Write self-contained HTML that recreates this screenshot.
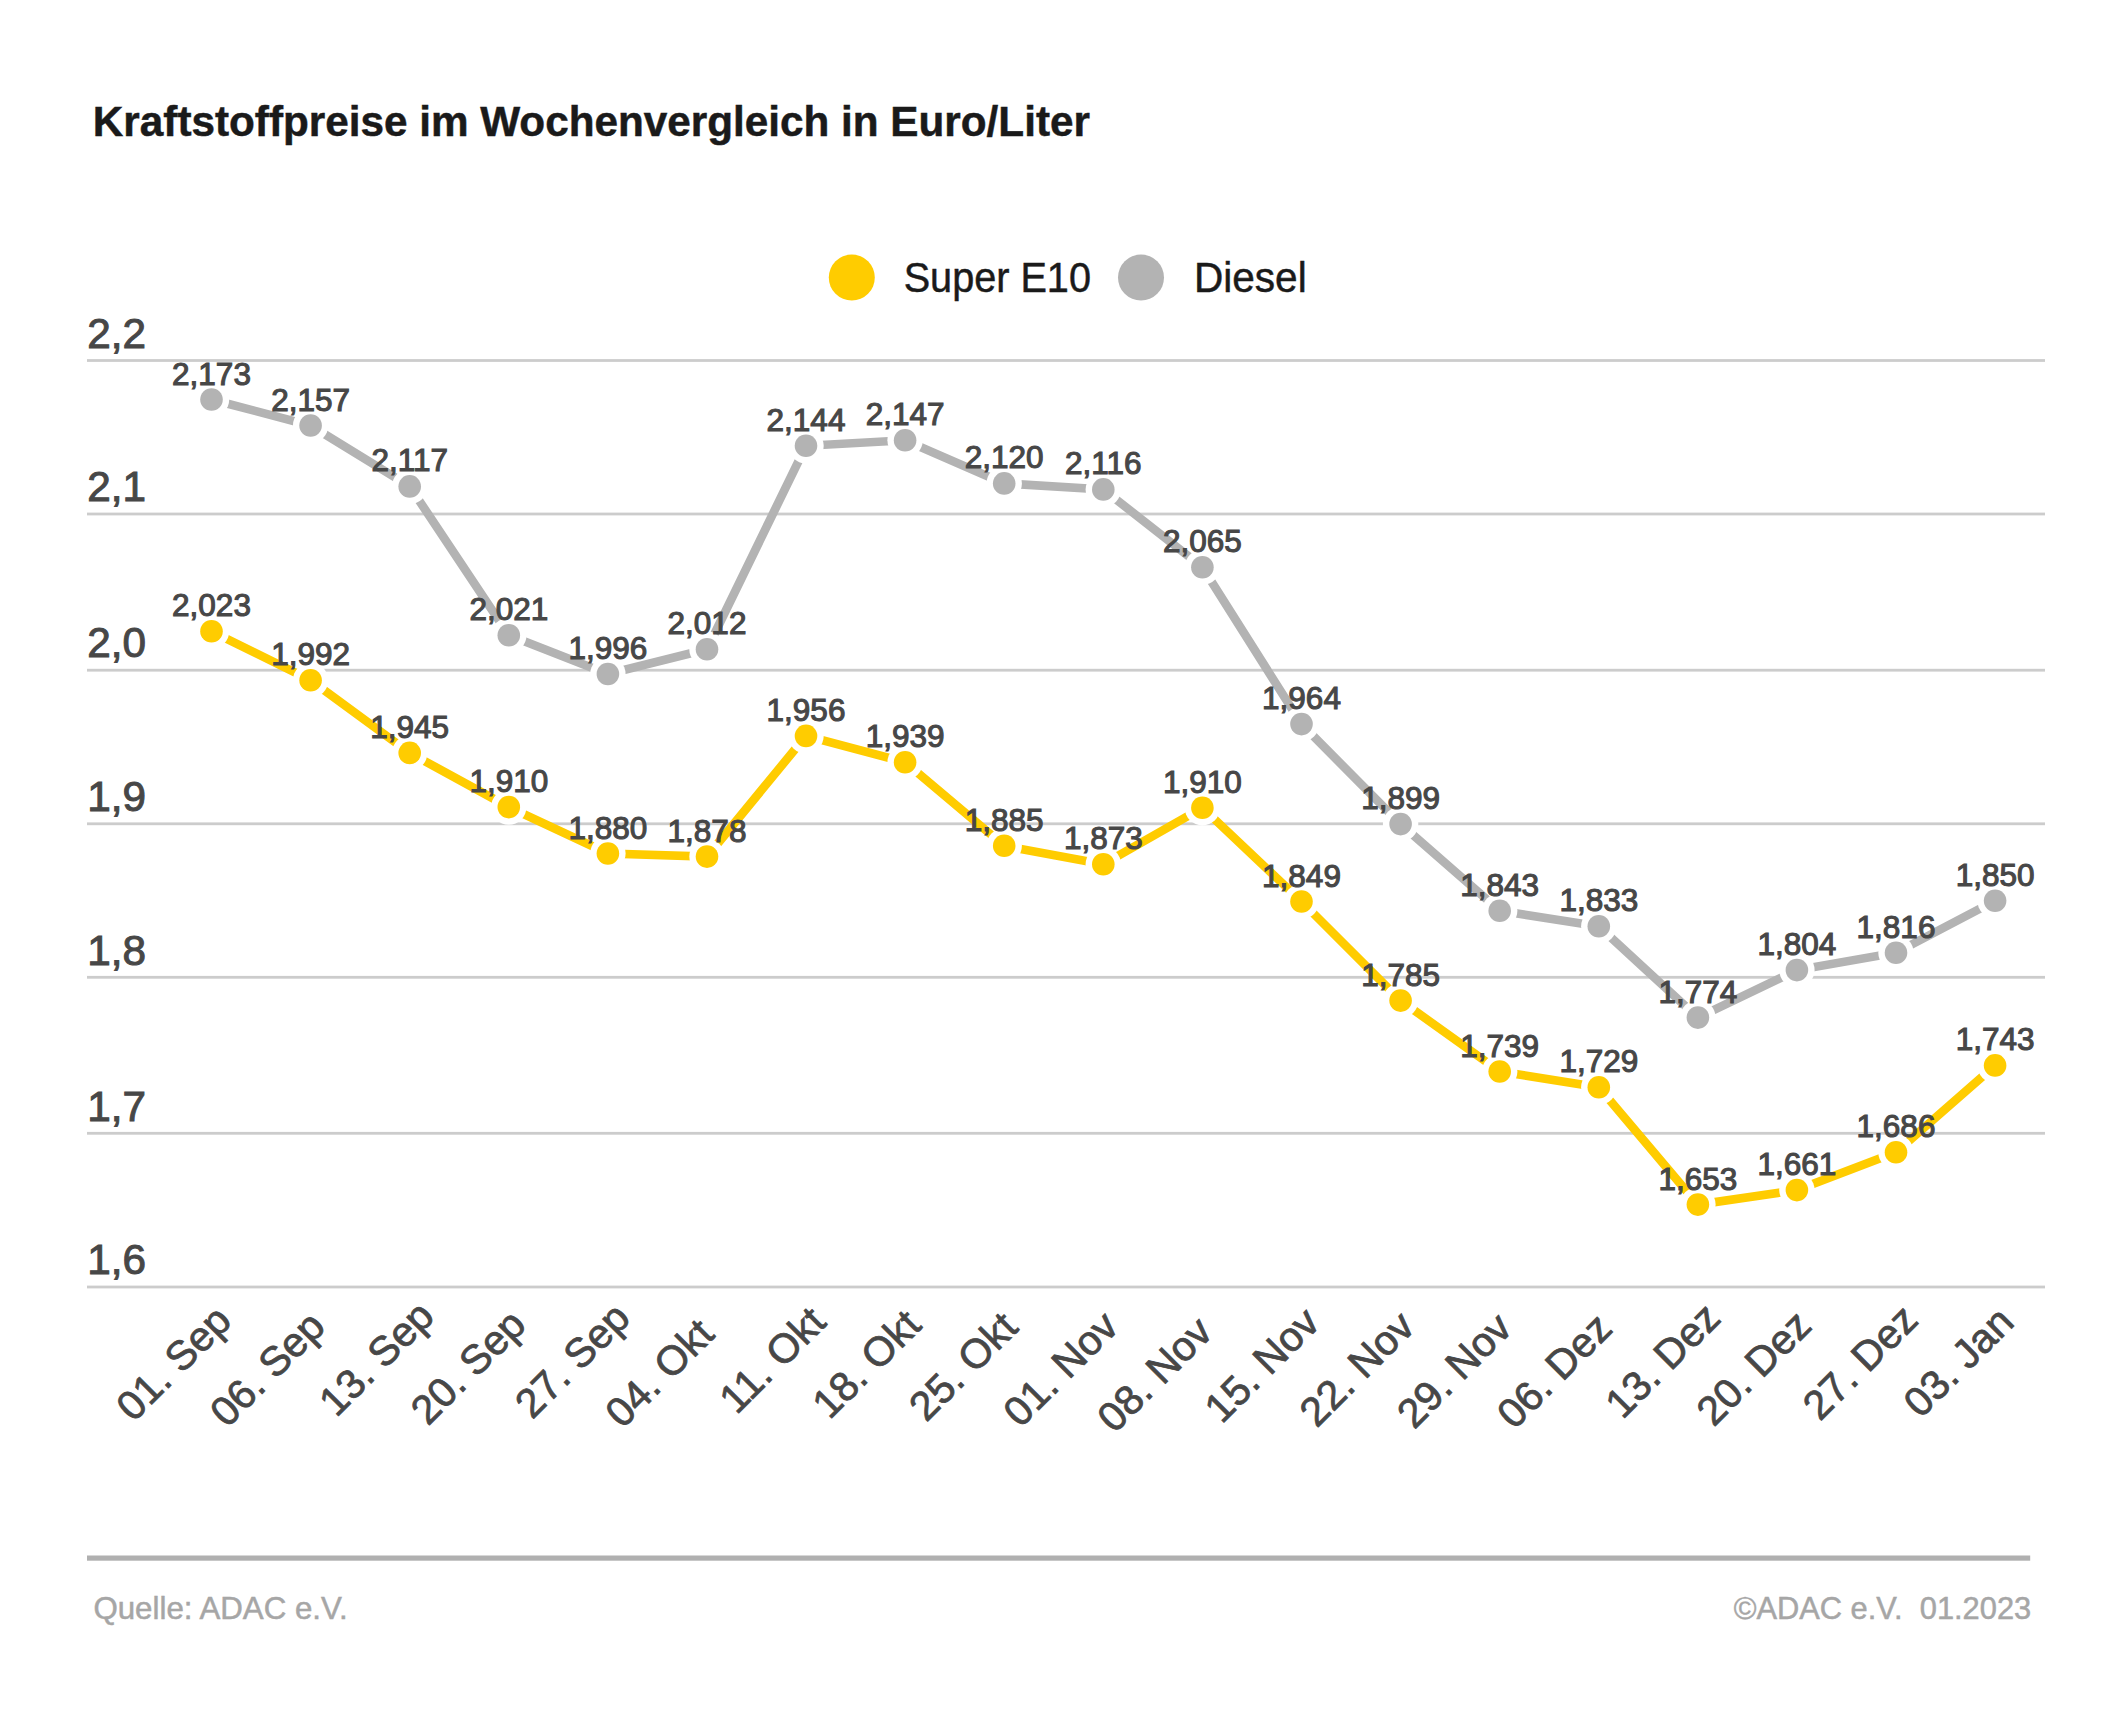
<!DOCTYPE html><html><head><meta charset="utf-8"><style>html,body{margin:0;padding:0;background:#fff;}svg{display:block;}</style></head><body>
<svg width="2126" height="1735" viewBox="0 0 2126 1735">
<rect width="2126" height="1735" fill="#fff"/>
<text transform="translate(92.86,135.9) scale(0.9785,1)" font-family="Liberation Sans" font-weight="bold" font-size="43.2" fill="#1a1a1a" stroke="#1a1a1a" stroke-width="0.5">Kraftstoffpreise im Wochenvergleich in Euro/Liter</text>
<circle cx="851.8" cy="277.6" r="23" fill="#ffcc00"/>
<text transform="translate(903.65,292.3) scale(0.924,1)" font-family="Liberation Sans" font-size="42.9" fill="#1a1a1a" stroke="#1a1a1a" stroke-width="0.5">Super E10</text>
<circle cx="1141" cy="277.6" r="23" fill="#b3b3b3"/>
<text transform="translate(1193.9,292.3) scale(0.9465,1)" font-family="Liberation Sans" font-size="42.9" fill="#1a1a1a" stroke="#1a1a1a" stroke-width="0.5">Diesel</text>
<rect x="87" y="359.1" width="1958" height="2.8" fill="#cccccc"/>
<text x="87.2" y="347.7" font-family="Liberation Sans" font-size="42.3" fill="#474747" stroke="#474747" stroke-width="1">2,2</text>
<rect x="87" y="512.6" width="1958" height="2.8" fill="#cccccc"/>
<text x="87.2" y="501.2" font-family="Liberation Sans" font-size="42.3" fill="#474747" stroke="#474747" stroke-width="1">2,1</text>
<rect x="87" y="668.8" width="1958" height="2.8" fill="#cccccc"/>
<text x="87.2" y="657.4" font-family="Liberation Sans" font-size="42.3" fill="#474747" stroke="#474747" stroke-width="1">2,0</text>
<rect x="87" y="822.4" width="1958" height="2.8" fill="#cccccc"/>
<text x="87.2" y="811.0" font-family="Liberation Sans" font-size="42.3" fill="#474747" stroke="#474747" stroke-width="1">1,9</text>
<rect x="87" y="975.9" width="1958" height="2.8" fill="#cccccc"/>
<text x="87.2" y="964.5" font-family="Liberation Sans" font-size="42.3" fill="#474747" stroke="#474747" stroke-width="1">1,8</text>
<rect x="87" y="1131.9" width="1958" height="2.8" fill="#cccccc"/>
<text x="87.2" y="1120.5" font-family="Liberation Sans" font-size="42.3" fill="#474747" stroke="#474747" stroke-width="1">1,7</text>
<rect x="87" y="1285.6" width="1958" height="2.8" fill="#cccccc"/>
<text x="87.2" y="1274.2" font-family="Liberation Sans" font-size="42.3" fill="#474747" stroke="#474747" stroke-width="1">1,6</text>
<polyline points="211.5,399.5 310.6,425.5 409.7,486.4 508.8,635.3 607.9,674.0 707.0,649.2 806.0,445.8 905.1,440.3 1004.2,483.4 1103.3,489.4 1202.4,567.2 1301.5,724.1 1400.6,824.1 1499.7,910.8 1598.8,926.3 1697.9,1017.6 1796.9,970.1 1896.0,952.7 1995.1,900.7" fill="none" stroke="#b3b3b3" stroke-width="8.6" stroke-linejoin="miter"/>
<circle cx="211.5" cy="399.5" r="17.7" fill="#fff"/>
<circle cx="211.5" cy="399.5" r="11.3" fill="#b3b3b3"/>
<circle cx="310.6" cy="425.5" r="17.7" fill="#fff"/>
<circle cx="310.6" cy="425.5" r="11.3" fill="#b3b3b3"/>
<circle cx="409.7" cy="486.4" r="17.7" fill="#fff"/>
<circle cx="409.7" cy="486.4" r="11.3" fill="#b3b3b3"/>
<circle cx="508.8" cy="635.3" r="17.7" fill="#fff"/>
<circle cx="508.8" cy="635.3" r="11.3" fill="#b3b3b3"/>
<circle cx="607.9" cy="674.0" r="17.7" fill="#fff"/>
<circle cx="607.9" cy="674.0" r="11.3" fill="#b3b3b3"/>
<circle cx="707.0" cy="649.2" r="17.7" fill="#fff"/>
<circle cx="707.0" cy="649.2" r="11.3" fill="#b3b3b3"/>
<circle cx="806.0" cy="445.8" r="17.7" fill="#fff"/>
<circle cx="806.0" cy="445.8" r="11.3" fill="#b3b3b3"/>
<circle cx="905.1" cy="440.3" r="17.7" fill="#fff"/>
<circle cx="905.1" cy="440.3" r="11.3" fill="#b3b3b3"/>
<circle cx="1004.2" cy="483.4" r="17.7" fill="#fff"/>
<circle cx="1004.2" cy="483.4" r="11.3" fill="#b3b3b3"/>
<circle cx="1103.3" cy="489.4" r="17.7" fill="#fff"/>
<circle cx="1103.3" cy="489.4" r="11.3" fill="#b3b3b3"/>
<circle cx="1202.4" cy="567.2" r="17.7" fill="#fff"/>
<circle cx="1202.4" cy="567.2" r="11.3" fill="#b3b3b3"/>
<circle cx="1301.5" cy="724.1" r="17.7" fill="#fff"/>
<circle cx="1301.5" cy="724.1" r="11.3" fill="#b3b3b3"/>
<circle cx="1400.6" cy="824.1" r="17.7" fill="#fff"/>
<circle cx="1400.6" cy="824.1" r="11.3" fill="#b3b3b3"/>
<circle cx="1499.7" cy="910.8" r="17.7" fill="#fff"/>
<circle cx="1499.7" cy="910.8" r="11.3" fill="#b3b3b3"/>
<circle cx="1598.8" cy="926.3" r="17.7" fill="#fff"/>
<circle cx="1598.8" cy="926.3" r="11.3" fill="#b3b3b3"/>
<circle cx="1697.9" cy="1017.6" r="17.7" fill="#fff"/>
<circle cx="1697.9" cy="1017.6" r="11.3" fill="#b3b3b3"/>
<circle cx="1796.9" cy="970.1" r="17.7" fill="#fff"/>
<circle cx="1796.9" cy="970.1" r="11.3" fill="#b3b3b3"/>
<circle cx="1896.0" cy="952.7" r="17.7" fill="#fff"/>
<circle cx="1896.0" cy="952.7" r="11.3" fill="#b3b3b3"/>
<circle cx="1995.1" cy="900.7" r="17.7" fill="#fff"/>
<circle cx="1995.1" cy="900.7" r="11.3" fill="#b3b3b3"/>
<polyline points="211.5,631.3 310.6,680.2 409.7,752.9 508.8,807.1 607.9,853.5 707.0,856.6 806.0,735.9 905.1,762.2 1004.2,845.8 1103.3,864.3 1202.4,807.7 1301.5,901.5 1400.6,1000.6 1499.7,1071.5 1598.8,1087.2 1697.9,1204.6 1796.9,1190.1 1896.0,1152.3 1995.1,1065.4" fill="none" stroke="#ffcc00" stroke-width="8.6" stroke-linejoin="miter"/>
<circle cx="211.5" cy="631.3" r="17.7" fill="#fff"/>
<circle cx="211.5" cy="631.3" r="11.3" fill="#ffcc00"/>
<circle cx="310.6" cy="680.2" r="17.7" fill="#fff"/>
<circle cx="310.6" cy="680.2" r="11.3" fill="#ffcc00"/>
<circle cx="409.7" cy="752.9" r="17.7" fill="#fff"/>
<circle cx="409.7" cy="752.9" r="11.3" fill="#ffcc00"/>
<circle cx="508.8" cy="807.1" r="17.7" fill="#fff"/>
<circle cx="508.8" cy="807.1" r="11.3" fill="#ffcc00"/>
<circle cx="607.9" cy="853.5" r="17.7" fill="#fff"/>
<circle cx="607.9" cy="853.5" r="11.3" fill="#ffcc00"/>
<circle cx="707.0" cy="856.6" r="17.7" fill="#fff"/>
<circle cx="707.0" cy="856.6" r="11.3" fill="#ffcc00"/>
<circle cx="806.0" cy="735.9" r="17.7" fill="#fff"/>
<circle cx="806.0" cy="735.9" r="11.3" fill="#ffcc00"/>
<circle cx="905.1" cy="762.2" r="17.7" fill="#fff"/>
<circle cx="905.1" cy="762.2" r="11.3" fill="#ffcc00"/>
<circle cx="1004.2" cy="845.8" r="17.7" fill="#fff"/>
<circle cx="1004.2" cy="845.8" r="11.3" fill="#ffcc00"/>
<circle cx="1103.3" cy="864.3" r="17.7" fill="#fff"/>
<circle cx="1103.3" cy="864.3" r="11.3" fill="#ffcc00"/>
<circle cx="1202.4" cy="807.7" r="17.7" fill="#fff"/>
<circle cx="1202.4" cy="807.7" r="11.3" fill="#ffcc00"/>
<circle cx="1301.5" cy="901.5" r="17.7" fill="#fff"/>
<circle cx="1301.5" cy="901.5" r="11.3" fill="#ffcc00"/>
<circle cx="1400.6" cy="1000.6" r="17.7" fill="#fff"/>
<circle cx="1400.6" cy="1000.6" r="11.3" fill="#ffcc00"/>
<circle cx="1499.7" cy="1071.5" r="17.7" fill="#fff"/>
<circle cx="1499.7" cy="1071.5" r="11.3" fill="#ffcc00"/>
<circle cx="1598.8" cy="1087.2" r="17.7" fill="#fff"/>
<circle cx="1598.8" cy="1087.2" r="11.3" fill="#ffcc00"/>
<circle cx="1697.9" cy="1204.6" r="17.7" fill="#fff"/>
<circle cx="1697.9" cy="1204.6" r="11.3" fill="#ffcc00"/>
<circle cx="1796.9" cy="1190.1" r="17.7" fill="#fff"/>
<circle cx="1796.9" cy="1190.1" r="11.3" fill="#ffcc00"/>
<circle cx="1896.0" cy="1152.3" r="17.7" fill="#fff"/>
<circle cx="1896.0" cy="1152.3" r="11.3" fill="#ffcc00"/>
<circle cx="1995.1" cy="1065.4" r="17.7" fill="#fff"/>
<circle cx="1995.1" cy="1065.4" r="11.3" fill="#ffcc00"/>
<text x="211.5" y="384.5" font-family="Liberation Sans" font-size="31.5" fill="#474747" stroke="#474747" stroke-width="1.1" text-anchor="middle">2,173</text>
<text x="310.6" y="410.5" font-family="Liberation Sans" font-size="31.5" fill="#474747" stroke="#474747" stroke-width="1.1" text-anchor="middle">2,157</text>
<text x="409.7" y="471.4" font-family="Liberation Sans" font-size="31.5" fill="#474747" stroke="#474747" stroke-width="1.1" text-anchor="middle">2,117</text>
<text x="508.8" y="620.3" font-family="Liberation Sans" font-size="31.5" fill="#474747" stroke="#474747" stroke-width="1.1" text-anchor="middle">2,021</text>
<text x="607.9" y="659.0" font-family="Liberation Sans" font-size="31.5" fill="#474747" stroke="#474747" stroke-width="1.1" text-anchor="middle">1,996</text>
<text x="707.0" y="634.2" font-family="Liberation Sans" font-size="31.5" fill="#474747" stroke="#474747" stroke-width="1.1" text-anchor="middle">2,012</text>
<text x="806.0" y="430.8" font-family="Liberation Sans" font-size="31.5" fill="#474747" stroke="#474747" stroke-width="1.1" text-anchor="middle">2,144</text>
<text x="905.1" y="425.3" font-family="Liberation Sans" font-size="31.5" fill="#474747" stroke="#474747" stroke-width="1.1" text-anchor="middle">2,147</text>
<text x="1004.2" y="468.4" font-family="Liberation Sans" font-size="31.5" fill="#474747" stroke="#474747" stroke-width="1.1" text-anchor="middle">2,120</text>
<text x="1103.3" y="474.4" font-family="Liberation Sans" font-size="31.5" fill="#474747" stroke="#474747" stroke-width="1.1" text-anchor="middle">2,116</text>
<text x="1202.4" y="552.2" font-family="Liberation Sans" font-size="31.5" fill="#474747" stroke="#474747" stroke-width="1.1" text-anchor="middle">2,065</text>
<text x="1301.5" y="709.1" font-family="Liberation Sans" font-size="31.5" fill="#474747" stroke="#474747" stroke-width="1.1" text-anchor="middle">1,964</text>
<text x="1400.6" y="809.1" font-family="Liberation Sans" font-size="31.5" fill="#474747" stroke="#474747" stroke-width="1.1" text-anchor="middle">1,899</text>
<text x="1499.7" y="895.8" font-family="Liberation Sans" font-size="31.5" fill="#474747" stroke="#474747" stroke-width="1.1" text-anchor="middle">1,843</text>
<text x="1598.8" y="911.3" font-family="Liberation Sans" font-size="31.5" fill="#474747" stroke="#474747" stroke-width="1.1" text-anchor="middle">1,833</text>
<text x="1697.9" y="1002.6" font-family="Liberation Sans" font-size="31.5" fill="#474747" stroke="#474747" stroke-width="1.1" text-anchor="middle">1,774</text>
<text x="1796.9" y="955.1" font-family="Liberation Sans" font-size="31.5" fill="#474747" stroke="#474747" stroke-width="1.1" text-anchor="middle">1,804</text>
<text x="1896.0" y="937.7" font-family="Liberation Sans" font-size="31.5" fill="#474747" stroke="#474747" stroke-width="1.1" text-anchor="middle">1,816</text>
<text x="1995.1" y="885.7" font-family="Liberation Sans" font-size="31.5" fill="#474747" stroke="#474747" stroke-width="1.1" text-anchor="middle">1,850</text>
<text x="211.5" y="616.3" font-family="Liberation Sans" font-size="31.5" fill="#474747" stroke="#474747" stroke-width="1.1" text-anchor="middle">2,023</text>
<text x="310.6" y="665.2" font-family="Liberation Sans" font-size="31.5" fill="#474747" stroke="#474747" stroke-width="1.1" text-anchor="middle">1,992</text>
<text x="409.7" y="737.9" font-family="Liberation Sans" font-size="31.5" fill="#474747" stroke="#474747" stroke-width="1.1" text-anchor="middle">1,945</text>
<text x="508.8" y="792.1" font-family="Liberation Sans" font-size="31.5" fill="#474747" stroke="#474747" stroke-width="1.1" text-anchor="middle">1,910</text>
<text x="607.9" y="838.5" font-family="Liberation Sans" font-size="31.5" fill="#474747" stroke="#474747" stroke-width="1.1" text-anchor="middle">1,880</text>
<text x="707.0" y="841.6" font-family="Liberation Sans" font-size="31.5" fill="#474747" stroke="#474747" stroke-width="1.1" text-anchor="middle">1,878</text>
<text x="806.0" y="720.9" font-family="Liberation Sans" font-size="31.5" fill="#474747" stroke="#474747" stroke-width="1.1" text-anchor="middle">1,956</text>
<text x="905.1" y="747.2" font-family="Liberation Sans" font-size="31.5" fill="#474747" stroke="#474747" stroke-width="1.1" text-anchor="middle">1,939</text>
<text x="1004.2" y="830.8" font-family="Liberation Sans" font-size="31.5" fill="#474747" stroke="#474747" stroke-width="1.1" text-anchor="middle">1,885</text>
<text x="1103.3" y="849.3" font-family="Liberation Sans" font-size="31.5" fill="#474747" stroke="#474747" stroke-width="1.1" text-anchor="middle">1,873</text>
<text x="1202.4" y="792.7" font-family="Liberation Sans" font-size="31.5" fill="#474747" stroke="#474747" stroke-width="1.1" text-anchor="middle">1,910</text>
<text x="1301.5" y="886.5" font-family="Liberation Sans" font-size="31.5" fill="#474747" stroke="#474747" stroke-width="1.1" text-anchor="middle">1,849</text>
<text x="1400.6" y="985.6" font-family="Liberation Sans" font-size="31.5" fill="#474747" stroke="#474747" stroke-width="1.1" text-anchor="middle">1,785</text>
<text x="1499.7" y="1056.5" font-family="Liberation Sans" font-size="31.5" fill="#474747" stroke="#474747" stroke-width="1.1" text-anchor="middle">1,739</text>
<text x="1598.8" y="1072.2" font-family="Liberation Sans" font-size="31.5" fill="#474747" stroke="#474747" stroke-width="1.1" text-anchor="middle">1,729</text>
<text x="1697.9" y="1189.6" font-family="Liberation Sans" font-size="31.5" fill="#474747" stroke="#474747" stroke-width="1.1" text-anchor="middle">1,653</text>
<text x="1796.9" y="1175.1" font-family="Liberation Sans" font-size="31.5" fill="#474747" stroke="#474747" stroke-width="1.1" text-anchor="middle">1,661</text>
<text x="1896.0" y="1137.3" font-family="Liberation Sans" font-size="31.5" fill="#474747" stroke="#474747" stroke-width="1.1" text-anchor="middle">1,686</text>
<text x="1995.1" y="1050.4" font-family="Liberation Sans" font-size="31.5" fill="#474747" stroke="#474747" stroke-width="1.1" text-anchor="middle">1,743</text>
<text transform="translate(133.46,1422.94) rotate(-45)" font-family="Liberation Sans" font-size="41.0" fill="#474747" stroke="#474747" stroke-width="0.8">01. Sep</text>
<text transform="translate(227.16,1428.64) rotate(-45)" font-family="Liberation Sans" font-size="41.0" fill="#474747" stroke="#474747" stroke-width="0.8">06. Sep</text>
<text transform="translate(336.26,1418.24) rotate(-45)" font-family="Liberation Sans" font-size="41.0" fill="#474747" stroke="#474747" stroke-width="0.8">13. Sep</text>
<text transform="translate(427.96,1426.74) rotate(-45)" font-family="Liberation Sans" font-size="41.0" fill="#474747" stroke="#474747" stroke-width="0.8">20. Sep</text>
<text transform="translate(532.26,1420.14) rotate(-45)" font-family="Liberation Sans" font-size="41.0" fill="#474747" stroke="#474747" stroke-width="0.8">27. Sep</text>
<text transform="translate(622.56,1429.54) rotate(-45)" font-family="Liberation Sans" font-size="41.0" fill="#474747" stroke="#474747" stroke-width="0.8">04. Okt</text>
<text transform="translate(736.46,1415.44) rotate(-45)" font-family="Liberation Sans" font-size="41.0" fill="#474747" stroke="#474747" stroke-width="0.8">11. Okt</text>
<text transform="translate(829.56,1420.54) rotate(-45)" font-family="Liberation Sans" font-size="41.0" fill="#474747" stroke="#474747" stroke-width="0.8">18. Okt</text>
<text transform="translate(926.36,1422.94) rotate(-45)" font-family="Liberation Sans" font-size="41.0" fill="#474747" stroke="#474747" stroke-width="0.8">25. Okt</text>
<text transform="translate(1020.46,1428.64) rotate(-45)" font-family="Liberation Sans" font-size="41.0" fill="#474747" stroke="#474747" stroke-width="0.8">01. Nov</text>
<text transform="translate(1114.56,1434.24) rotate(-45)" font-family="Liberation Sans" font-size="41.0" fill="#474747" stroke="#474747" stroke-width="0.8">08. Nov</text>
<text transform="translate(1221.76,1424.84) rotate(-45)" font-family="Liberation Sans" font-size="41.0" fill="#474747" stroke="#474747" stroke-width="0.8">15. Nov</text>
<text transform="translate(1316.76,1428.64) rotate(-45)" font-family="Liberation Sans" font-size="41.0" fill="#474747" stroke="#474747" stroke-width="0.8">22. Nov</text>
<text transform="translate(1414.16,1430.14) rotate(-45)" font-family="Liberation Sans" font-size="41.0" fill="#474747" stroke="#474747" stroke-width="0.8">29. Nov</text>
<text transform="translate(1514.26,1430.54) rotate(-45)" font-family="Liberation Sans" font-size="41.0" fill="#474747" stroke="#474747" stroke-width="0.8">06. Dez</text>
<text transform="translate(1622.46,1420.14) rotate(-45)" font-family="Liberation Sans" font-size="41.0" fill="#474747" stroke="#474747" stroke-width="0.8">13. Dez</text>
<text transform="translate(1713.66,1427.64) rotate(-45)" font-family="Liberation Sans" font-size="41.0" fill="#474747" stroke="#474747" stroke-width="0.8">20. Dez</text>
<text transform="translate(1819.96,1422.04) rotate(-45)" font-family="Liberation Sans" font-size="41.0" fill="#474747" stroke="#474747" stroke-width="0.8">27. Dez</text>
<text transform="translate(1920.66,1419.24) rotate(-45)" font-family="Liberation Sans" font-size="41.0" fill="#474747" stroke="#474747" stroke-width="0.8">03. Jan</text>
<rect x="87" y="1555.5" width="1943.2" height="5.2" fill="#b0b0b0"/>
<text transform="translate(93.4,1618.8) scale(0.996,1)" font-family="Liberation Sans" font-size="31.4" fill="#a6a6a6" stroke="#a6a6a6" stroke-width="0.5">Quelle: ADAC e.V.</text>
<text transform="translate(1733.7,1618.8) scale(0.982,1)" font-family="Liberation Sans" font-size="31.4" fill="#a6a6a6" stroke="#a6a6a6" stroke-width="0.5" xml:space="preserve">©ADAC e.V.  01.2023</text>
</svg></body></html>
